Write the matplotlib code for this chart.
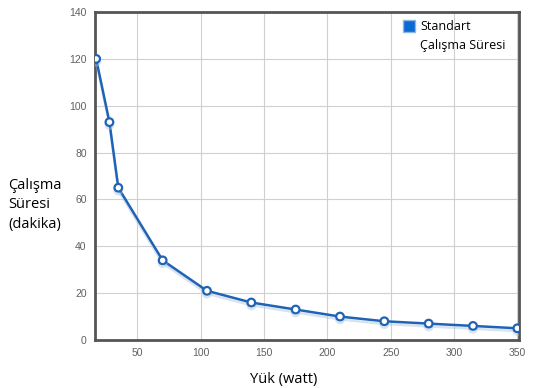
import matplotlib.pyplot as plt
import matplotlib.patheffects as pe
from matplotlib.patches import Rectangle

load_w = [17.5, 28, 35, 70, 105, 140, 175, 210, 245, 280, 315, 350]
minutes = [120, 93, 65, 34, 21, 16, 13, 10, 8, 7, 6, 5]
x_ticks = [50, 100, 150, 200, 250, 300, 350]
y_ticks = [0, 20, 40, 60, 80, 100, 120, 140]
legend_lines = ['Standart', 'Çalışma Süresi']

blue = '#1f63b5'

fig = plt.figure(figsize=(5.45, 3.88), dpi=100)
ax = fig.add_axes([0.1743, 0.1237, 0.778, 0.8453])

ax.plot(load_w, minutes, color=blue, lw=1.8, marker='o', ms=5.5,
        mfc='white', mec=blue, mew=1.6, zorder=3,
        path_effects=[pe.SimpleLineShadow(offset=(0, -2), shadow_color='#a9c3e0', alpha=0.45),
                      pe.Normal()])

ax.set_xlim(16.6, 351.3)
ax.set_ylim(0, 140)
ax.set_xticks(x_ticks)
ax.set_yticks(y_ticks)
ax.grid(True, color='#d0d0d0', lw=0.8)
ax.set_axisbelow(True)
ax.tick_params(length=0, labelsize=7.5, labelcolor='#606060', pad=6)
for lbl in ax.get_xticklabels() + ax.get_yticklabels():
    lbl.set_family('Liberation Sans')
for s in ax.spines.values():
    s.set_linewidth(2)
    s.set_color('#555555')

fig.text(0.015, 0.472, 'Çalışma\nSüresi\n(dakika)', fontsize=10.5,
         family='Open Sans', va='center', ha='left', linespacing=1.4)
fig.text(0.52, 0.021, 'Yük (watt)', fontsize=10.5, family='Open Sans',
         ha='center', va='center')

# legend drawn by hand so the swatch sits beside the first line
fig.add_artist(Rectangle((403 / 545, 1 - 32 / 388), 12 / 545, 12 / 388,
                         transform=fig.transFigure, facecolor='#0a6ad1',
                         edgecolor='#8ab8e6', lw=1))
for i, line in enumerate(legend_lines):
    fig.text(420 / 545, 1 - (26 + 19 * i) / 388, line, fontsize=9,
             family='Open Sans', va='center', ha='left')

fig.savefig('out.png', dpi=100)
